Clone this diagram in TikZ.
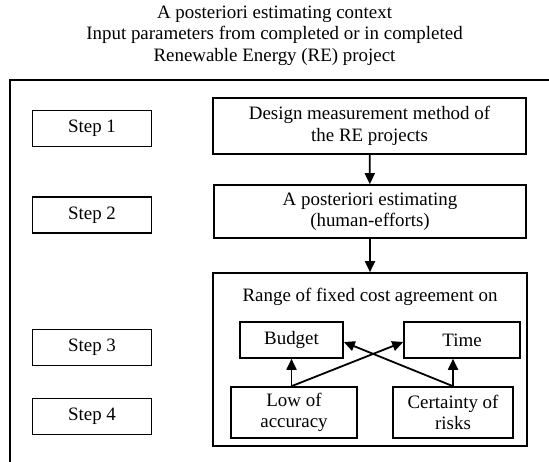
\documentclass[tikz,border=0pt]{standalone}
\usepackage{fontspec}
\setmainfont{Liberation Serif}
\usetikzlibrary{arrows.meta, positioning}

\begin{document}
\begin{tikzpicture}[x=1bp,y=-1bp,line width=1.6bp,>={Triangle[length=11bp,width=10bp]},font=\fontsize{19}{21.5}\selectfont]
    \tikzstyle{box}=[draw=black, rectangle, inner sep=0pt, align=center]
    \tikzstyle{stepbox}=[box, minimum width=119bp, minimum height=36bp]
    \tikzstyle{link}=[->, line width=1.8bp]

    \useasboundingbox (0,0) rectangle (549,462);

    % context and frame
    \node[align=center] (ctx) at (274.5,35.5) {A posteriori estimating context\\Input parameters from completed or in completed\\Renewable Energy (RE) project};
    \coordinate (fl) at (10,470);
    \coordinate (fc) at (10,80);
    \coordinate (fr) at (560,80);
    \draw (fl) -- (fc) -- (fr);

    % steps
    \foreach \n/\y in {1/128.5,2/215,3/347.5,4/416.5}{
        \node[stepbox] (S-\n) at (92,\y) {Step \n};
    }

    \node[box, minimum width=313bp, minimum height=56bp] (design) at (369.5,126) {Design measurement method of\\the RE projects};
    \node[box, minimum width=312bp, minimum height=53bp] (post) at (370,211.5) {A posteriori estimating\\(human-efforts)};
    \node[box, minimum width=314bp, minimum height=173bp] (range) at (370,359.5) {};
    \node[] (rangetxt) at (370,297) {Range of fixed cost agreement on};

    \node[box, minimum width=103bp, minimum height=36bp] (budget) at (291.5,340) {Budget};
    \node[box, minimum width=116bp, minimum height=36bp] (time) at (462,340) {Time};
    \node[box, minimum width=126bp, minimum height=51bp] (low) at (294,412.5) {Low of\\accuracy};
    \node[box, minimum width=120bp, minimum height=51bp] (cert) at (453,412.5) {Certainty of\\risks};

    \draw[link] (design) -- (post);
    \draw[link] (post) -- (range);
    \draw[link] (low.north -| budget.south) -- (budget.south);
    \draw[link] (low.north -| budget.south) -- ([yshift=-2bp]time.west);
    \draw[link] (cert.north) -- (cert.north |- time.south);
    \draw[link] (cert.north) -- ([yshift=-2bp]budget.east);
\end{tikzpicture}
\end{document}
